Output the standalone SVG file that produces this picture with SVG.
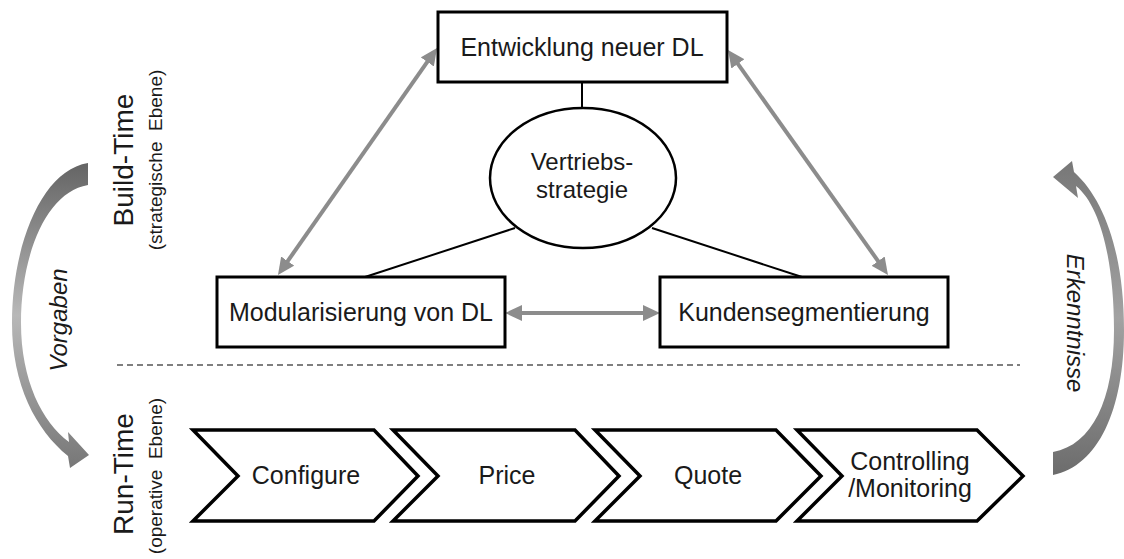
<svg xmlns="http://www.w3.org/2000/svg" width="1124" height="559" viewBox="0 0 1124 559">
  <style>
    .box { fill: #fff; stroke: #000; stroke-width: 3; }
    .chev { fill: #fff; stroke: #000; stroke-width: 3.5; stroke-linejoin: miter; }
    .lbl { font-family: "Liberation Sans", Arial, sans-serif; font-size: 25px; fill: #1a1a1a; text-anchor: middle; }
    .ell { font-family: "Liberation Sans", Arial, sans-serif; font-size: 24px; fill: #1a1a1a; text-anchor: middle; }
    .big { font-family: "Liberation Sans", Arial, sans-serif; font-size: 28px; fill: #1a1a1a; text-anchor: middle; }
    .small { font-family: "Liberation Sans", Arial, sans-serif; font-size: 19px; fill: #1a1a1a; text-anchor: middle; }
    .ital { font-family: "Liberation Sans", Arial, sans-serif; font-size: 24px; font-style: italic; fill: #1a1a1a; text-anchor: middle; }
    .link { stroke: #000; stroke-width: 2; fill: none; }
    .garrow { stroke: #8c8c8c; stroke-width: 4; fill: none; marker-start: url(#ahStart); marker-end: url(#ahEnd); }
  </style>
  <defs>
    <marker id="ahEnd" markerUnits="userSpaceOnUse" markerWidth="17" markerHeight="16" refX="11" refY="8" orient="auto">
      <path d="M0,0 L17,8 L0,16 z" fill="#8c8c8c"/>
    </marker>
    <marker id="ahStart" markerUnits="userSpaceOnUse" markerWidth="17" markerHeight="16" refX="6" refY="8" orient="auto">
      <path d="M17,0 L0,8 L17,16 z" fill="#8c8c8c"/>
    </marker>
    <linearGradient id="gLeft" x1="0" y1="0" x2="0" y2="1">
      <stop offset="0" stop-color="#646464"/>
      <stop offset="0.5" stop-color="#b8b8b8"/>
      <stop offset="1" stop-color="#777"/>
    </linearGradient>
    <linearGradient id="gRight" x1="0" y1="0" x2="0" y2="1">
      <stop offset="0" stop-color="#777"/>
      <stop offset="0.5" stop-color="#a2a2a2"/>
      <stop offset="1" stop-color="#6c6c6c"/>
    </linearGradient>
  </defs>

  <rect width="1124" height="559" fill="#fff"/>

  <!-- level labels -->
  <g id="label-build">
    <text class="big" transform="translate(133,160) rotate(-90)">Build-Time</text>
    <text class="small" transform="translate(162,160) rotate(-90)" xml:space="preserve">(strategische  Ebene)</text>
  </g>
  <g id="label-run">
    <text class="big" transform="translate(133,474) rotate(-90)">Run-Time</text>
    <text class="small" transform="translate(162,476) rotate(-90)" xml:space="preserve">(operative  Ebene)</text>
  </g>

  <!-- dashed separator -->
  <line x1="117" y1="365" x2="1020" y2="365" stroke="#555" stroke-width="1.5" stroke-dasharray="6,4"/>

  <!-- curved arrows -->
  <g id="arc-vorgaben">
    <path d="M88,163 C42,170 12,245 12,323 C12,385 36,430 68,456 L70,468 L89,455 L68,432 L69,442 C42,422 21,380 21,323 C21,255 46,192 88,185 Z" fill="url(#gLeft)"/>
    <text class="ital" transform="translate(67,320) rotate(-90)">Vorgaben</text>
  </g>
  <g id="arc-erkenntnisse">
    <path d="M1053,452 L1053,475 C1098,466 1124,410 1124,330 C1124,255 1105,200 1074,172 L1072,161 L1053,177 L1078,198 L1076,186 C1100,205 1114,260 1114,330 C1114,400 1092,445 1053,452 Z" fill="url(#gRight)"/>
    <text class="ital" transform="translate(1067,323) rotate(90)">Erkenntnisse</text>
  </g>

  <!-- connectors -->
  <g id="connectors">
    <line class="link" x1="582" y1="82" x2="582" y2="108"/>
    <line class="link" x1="515" y1="228" x2="365" y2="277"/>
    <line class="link" x1="652" y1="228" x2="802" y2="277"/>
    <line class="garrow" x1="433.6" y1="52.9" x2="281.4" y2="270.1"/>
    <line class="garrow" x1="731.5" y1="54.9" x2="884.5" y2="270.1"/>
    <line class="garrow" x1="511" y1="313" x2="654" y2="313"/>
  </g>

  <!-- nodes -->
  <g id="node-entwicklung">
    <rect class="box" x="438" y="12" width="289" height="70"/>
    <text class="lbl" x="582" y="56">Entwicklung neuer DL</text>
  </g>
  <g id="node-vertriebsstrategie">
    <ellipse cx="583" cy="178" rx="93" ry="70" fill="#fff" stroke="#000" stroke-width="2.5"/>
    <text class="ell" x="582" y="170">Vertriebs-</text>
    <text class="ell" x="582" y="198">strategie</text>
  </g>
  <g id="node-modularisierung">
    <rect class="box" x="217" y="277" width="288" height="70"/>
    <text class="lbl" x="361" y="321">Modularisierung von DL</text>
  </g>
  <g id="node-kundensegmentierung">
    <rect class="box" x="660" y="277" width="288" height="70"/>
    <text class="lbl" x="804" y="321">Kundensegmentierung</text>
  </g>

  <!-- process chevrons -->
  <g id="step-configure">
    <polygon class="chev" points="193,430 374,430 418,476 374,521 193,521 238,476"/>
    <text class="lbl" x="306" y="484">Configure</text>
  </g>
  <g id="step-price">
    <polygon class="chev" points="393,430 575,430 619,476 575,521 393,521 438,476"/>
    <text class="lbl" x="507" y="484">Price</text>
  </g>
  <g id="step-quote">
    <polygon class="chev" points="595,430 776,430 821,476 776,521 595,521 640,476"/>
    <text class="lbl" x="708" y="484">Quote</text>
  </g>
  <g id="step-controlling">
    <polygon class="chev" points="797,430 977,430 1023,476 977,521 797,521 842,476"/>
    <text class="lbl" x="910" y="470">Controlling</text>
    <text class="lbl" x="910" y="497">/Monitoring</text>
  </g>
</svg>
